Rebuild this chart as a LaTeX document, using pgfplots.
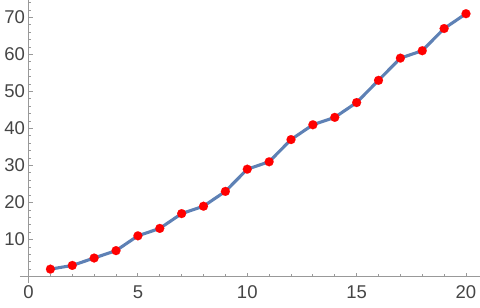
\documentclass[border=0pt]{standalone}
\usepackage{pgfplots}
\pgfplotsset{compat=1.18}
\usepackage{fontspec}
\setmainfont{Liberation Sans}
\definecolor{lineblue}{rgb}{0.368417,0.506779,0.709798}
\definecolor{axgray}{gray}{0.6}
\definecolor{lblgray}{gray}{0.27}
\begin{document}
\begin{tikzpicture}
\begin{axis}[
 scale only axis, width=460pt, height=283.2pt,
 xmin=-0.39, xmax=20.64, ymin=-1.8, ymax=74.7,
 axis lines=middle, axis line style={-, axgray, line width=0.8pt},
 tick align=inside,
 xtick={0,5,10,15,20}, ytick={0,10,20,...,70},
 minor xtick={1,...,20}, minor ytick={2,4,...,74},
 major tick length=4pt, minor tick length=2.5pt,
 tick style={axgray, line width=0.8pt},
 hide obscured x ticks=false,
 ticklabel style={font=\fontsize{18.5}{20}\selectfont, text=lblgray},
 /pgf/number format/assume math mode=true,
 xticklabel style={yshift=-6pt},
 clip=false,
]
\addplot[lineblue, line width=3.1pt, mark=*, mark size=4.5pt,
  mark options={fill=red, draw=red, line width=0.1pt}] coordinates {
(1,2) (2,3) (3,5) (4,7) (5,11) (6,13) (7,17) (8,19) (9,23) (10,29)
(11,31) (12,37) (13,41) (14,43) (15,47) (16,53) (17,59) (18,61) (19,67) (20,71)
};
\coordinate (bl) at (rel axis cs:0,0);
\coordinate (tr) at (rel axis cs:1,1);
\end{axis}
\pgfresetboundingbox
\path (bl) ++(-20pt,-24.8pt) rectangle (tr);
\end{tikzpicture}
\end{document}
